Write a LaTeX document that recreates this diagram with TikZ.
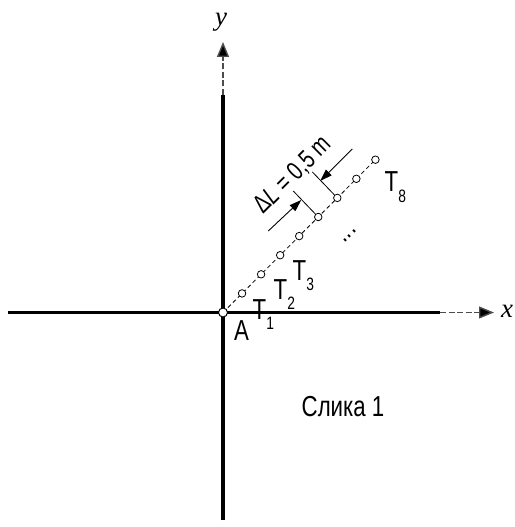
\documentclass[tikz,border=0pt]{standalone}
\usepackage{fontspec}
\setmainfont{Liberation Sans}[FakeStretch=0.77]
\newfontfamily\axisfont{Liberation Serif}
\usetikzlibrary{arrows.meta,calc}
\newcommand{\Tlab}[1]{T\raisebox{-0.36em}{\fontsize{18}{18}\selectfont #1}}
\tikzset{
  axisline/.style={line width=3.5bp},
  axisdash/.style={line width=1.4bp,draw=black!70,dash pattern=on 6bp off 2.5bp,
    -{Triangle[length=15bp,width=12bp,fill=black]}},
  pathdash/.style={line width=0.8bp,dash pattern=on 4bp off 3bp},
  pt/.style={circle,draw,fill=white,line width=0.8bp,minimum size=7.5bp,inner sep=0pt},
  origin/.style={circle,draw,fill=white,line width=1bp,minimum size=9bp,inner sep=0pt},
  ext/.style={line width=0.8bp},
  dimarrow/.style={line width=0.9bp,-{Triangle[length=12bp,width=8bp]}},
  lab/.style={font=\fontsize{29}{29}\selectfont,inner sep=0pt,anchor=base west},
  axlab/.style={font=\fontsize{27}{27}\selectfont\axisfont\itshape,inner sep=0pt,anchor=base},
}
\begin{document}
\begin{tikzpicture}[x=1bp,y=-1bp]
\useasboundingbox (0,0) rectangle (515,527);
% axes
\coordinate (O) at (223,312.5);
\coordinate (xl) at (8,312.5);
\coordinate (xs) at (440,312.5);
\coordinate (xt) at (494,312.5);
\coordinate (yb) at (223,520);
\coordinate (ys) at (223,95);
\coordinate (yt) at (223,42);
\draw[axisline] (xl) -- (xs);
\draw[axisdash] (xs) -- (xt);
\draw[axisline] (yb) -- (ys);
\draw[axisdash] (ys) -- (yt);
\node[axlab] (xlab) at (507,317.5) {x};
\node[axlab] (ylab) at (221,26) {y};
% points
\foreach \k in {1,...,8}
  \coordinate (p\k) at ({223+19.05*\k},{312.5-19.1*\k});
\draw[pathdash] (O) -- (p8);
\node[origin] (A0) at (O) {};
\foreach \k in {1,...,8}
  \node[pt] (c\k) at (p\k) {};
% dimension
\coordinate (d5) at ($(p5)+(-17,-17)$);
\coordinate (d6) at ($(p6)+(-17,-17)$);
\coordinate (e5) at ($(p5)+(-25,-26)$);
\coordinate (e6) at ($(p6)+(-25,-26)$);
\coordinate (a5) at ($(d5)+(-33,31)$);
\coordinate (a6) at ($(d6)+(32,-32)$);
\draw[ext] (c5) -- (e5);
\draw[ext] (c6) -- (e6);
\draw[dimarrow] (a5) -- (d5);
\draw[dimarrow] (a6) -- (d6);
\node[font=\fontsize{26}{26}\selectfont,inner sep=0pt,rotate=45] (dl) at (293,175) {Δ\textit{L} = 0,5 m};
% labels
\node[lab] (tA) at (234,340) {A};
\node[lab] (t1) at (252.5,319.3) {\Tlab{1}};
\node[lab] (t2) at (273.5,299.3) {\Tlab{2}};
\node[lab] (t3) at (292.5,280) {\Tlab{3}};
\node[lab] (t8) at (384.5,191.7) {\Tlab{8}};
\node[font=\fontsize{28}{28}\selectfont,inner sep=0pt,anchor=base,rotate=45] (dots) at (351,237) {...};
\node[lab] (cap) at (301.5,416) {Слика 1};
\end{tikzpicture}
\end{document}
